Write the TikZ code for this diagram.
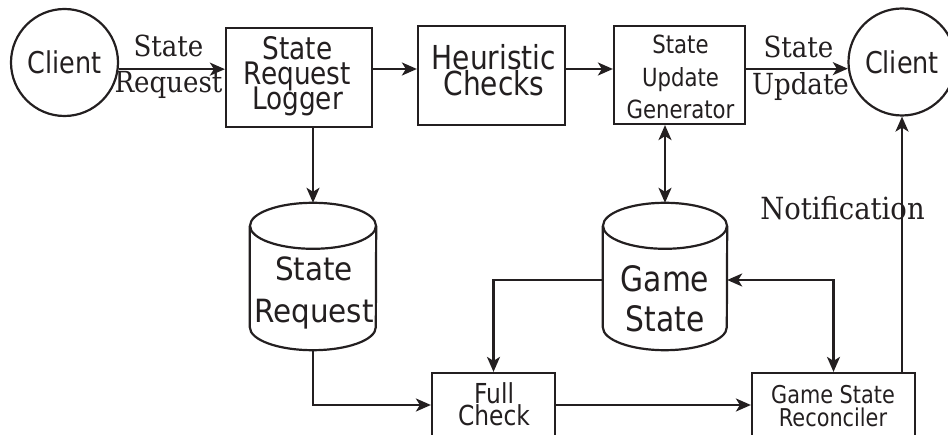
\documentclass[tikz,border=0pt]{standalone}
\usepackage{fontspec}
\setmainfont{DejaVu Serif Condensed}
\newfontfamily\blockfont[FakeStretch=0.85]{DejaVu Sans}
\newfontfamily\storefont[FakeStretch=0.92]{DejaVu Sans}
\usetikzlibrary{arrows.meta,calc}
\definecolor{ink}{RGB}{35,31,32}

% let stacked lines overlap when the baseline skip is smaller than the font
\newcommand\tightlines{\lineskiplimit=-100pt\relax\lineskip=0pt\relax}

% outline of a vertical drum (database) around an empty node
\newcommand\drumoutline[2]{%
  \draw[wire] ($(#1.north)+(0,23)$) ellipse [x radius=#2, y radius=23];
  \draw[wire] ($(#1.north west)+(0,23)$) -- ($(#1.south west)+(0,-23)$)
    arc[start angle=180, end angle=0, x radius=#2, y radius=23]
    -- ($(#1.north east)+(0,23)$);
}

\begin{document}
\begin{tikzpicture}[x=1pt, y=-1pt,
  wire/.style={draw=ink, line width=2.2pt},
  flow/.style={wire, -{Stealth[length=15pt, width=13pt, inset=4pt]}},
  twoway/.style={wire, {Stealth[length=15pt, width=13pt, inset=4pt]}-{Stealth[length=15pt, width=13pt, inset=4pt]}},
  block/.style={draw=ink, line width=2.2pt, rectangle, inner sep=0pt},
  drum/.style={rectangle, inner sep=0pt, draw=none},
  agent/.style={draw=ink, line width=2.2pt, circle, inner sep=0pt, minimum size=107pt,
    text=ink, font=\blockfont\fontsize{30}{30}\selectfont},
  blocktext/.style={inner sep=0pt, anchor=north, align=center, text=ink},
  caption/.style={inner sep=0pt, anchor=base, text=ink, font=\fontsize{29}{29}\selectfont}
]
\useasboundingbox (0,0) rectangle (948,435);
\clip (0,0) rectangle (948,435);

% clients
\node[agent] (cl) at (64.5,62.5) {Client};
\node[agent] (cr) at (902,62) {Client};

% processing blocks
\node[block, minimum width=146pt, minimum height=99pt] (log) at (299,77.5) {};
\node[block, minimum width=147pt, minimum height=99pt] (heu) at (491.5,75.5) {};
\node[block, minimum width=131pt, minimum height=98pt] (sug) at (679.5,75) {};
\node[block, minimum width=123pt, minimum height=64pt] (fc) at (493.5,405) {};
\node[block, minimum width=163pt, minimum height=64pt] (rec) at (833.5,405) {};

% data stores
\node[drum, minimum width=126pt, minimum height=147pt] (sr) at (313,276.5) {};
\node[drum, minimum width=124pt, minimum height=147pt] (gs) at (665,276.5) {};
\drumoutline{sr}{63}
\drumoutline{gs}{62}

% block texts
\node[blocktext, font=\blockfont\fontsize{31}{25}\selectfont\tightlines] (logt) at (297.5,36) {State\\Request\\Logger};
\node[blocktext, font=\blockfont\fontsize{33}{26}\selectfont\tightlines] (heut) at (494,44) {Heuristic\\Checks};
\node[blocktext, font=\blockfont\fontsize{25}{32.5}\selectfont\tightlines] (sugt) at (680.5,35) {State\\Update\\Generator};
\node[blocktext, font=\storefont\fontsize{32}{42}\selectfont\tightlines] (srt) at (314,256.5) {State\\Request};
\node[blocktext, font=\blockfont\fontsize{35}{40}\selectfont\tightlines] (gst) at (665,265) {Game\\State};
\node[blocktext, font=\blockfont\fontsize{27.5}{22}\selectfont\tightlines] (fct) at (494,382) {Full\\Check};
\node[blocktext, font=\blockfont\fontsize{24.5}{23}\selectfont\tightlines] (rect) at (833,385) {Game State\\Reconciler};

% connector labels
\node[caption] (lbl1) at (168.5,57) {State};
\node[caption] (lbl2) at (168.5,93) {Request};
\node[caption] (lbl3) at (798.5,58) {State};
\node[caption] (lbl4) at (800.5,95) {Update};
\node[caption, font=\fontsize{30.5}{30.5}\selectfont] (lbl5) at (842.5,220) {Notification};

% connectors
\coordinate (row) at (0,69);
\coordinate (mid) at (0,280);
\draw[flow] (cl.-7) -- (cl.-7 -| log.west);
\draw[flow] (log.east |- row) -- (heu.west |- row);
\draw[flow] (heu.east |- row) -- (sug.west |- row);
\draw[flow] (sug.east |- cr.187) -- (cr.187);
\draw[flow] (log.south -| sr.north) -- (sr.north);
\draw[twoway] (sug.south -| gs.north) -- (gs.north);
\draw[flow] (gs.west |- mid) -| (fc.north);
\draw[twoway] (gs.east |- mid) -| (rec.north);
\draw[flow] (sr.south) |- (fc.west);
\draw[flow] (fc.east) -- (rec.west);
\draw[flow] (rec.north -| cr.south) -- (cr.south);
\end{tikzpicture}
\end{document}
